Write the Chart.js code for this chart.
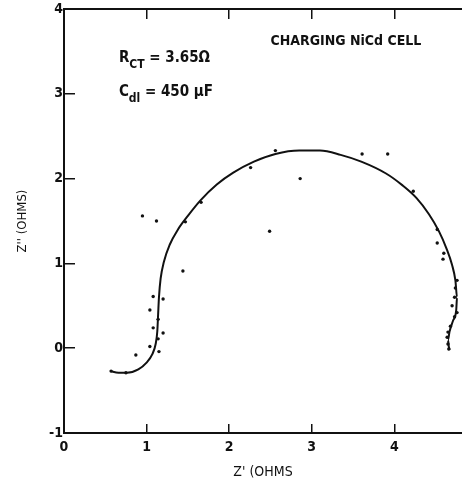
<!DOCTYPE html>
<html>
<head>
<meta charset="utf-8">
<script src="https://cdn.jsdelivr.net/npm/chart.js@4.4.0/dist/chart.umd.min.js"></script>
<style>
  html, body { margin: 0; padding: 0; background: #fff; }
  #wrap { width: 462px; height: 483px; }
</style>
</head>
<body>
<div id="wrap"><canvas id="nyquist" width="462" height="483"></canvas></div>
<script>
// fitted arc (Z', Z'')
const curveX = [0.56, 0.66, 0.76, 0.90, 1.00, 1.07, 1.11, 1.13, 1.14, 1.15, 1.17, 1.21, 1.28, 1.38, 1.50, 1.65, 1.85, 2.05, 2.30, 2.56, 2.85, 3.10, 3.35, 3.60, 3.90, 4.10, 4.27, 4.42, 4.54, 4.63, 4.70, 4.74, 4.76, 4.75, 4.71, 4.67, 4.65, 4.66, 4.67];
const curveY = [-0.27, -0.29, -0.29, -0.25, -0.17, -0.07, 0.05, 0.20, 0.40, 0.60, 0.82, 1.02, 1.22, 1.40, 1.56, 1.74, 1.93, 2.07, 2.20, 2.29, 2.33, 2.33, 2.28, 2.20, 2.06, 1.92, 1.77, 1.58, 1.38, 1.18, 0.98, 0.80, 0.60, 0.45, 0.32, 0.20, 0.10, 0.02, -0.02];

// measured points
const measX = [0.57, 0.75, 0.87, 0.95, 1.12, 1.44, 1.08, 1.20, 1.04, 1.14, 1.08, 1.20, 1.14, 1.04, 1.15, 1.47, 1.66, 2.26, 2.56, 2.86, 2.49, 3.61, 3.92, 4.23, 4.52, 4.52, 4.60, 4.59, 4.76, 4.74, 4.73, 4.70, 4.76, 4.73, 4.68, 4.65, 4.64, 4.65, 4.66];
const measY = [-0.27, -0.29, -0.08, 1.56, 1.50, 0.91, 0.61, 0.58, 0.45, 0.34, 0.24, 0.18, 0.11, 0.02, -0.04, 1.49, 1.72, 2.13, 2.33, 2.00, 1.38, 2.29, 2.29, 1.85, 1.40, 1.24, 1.12, 1.05, 0.80, 0.71, 0.60, 0.50, 0.42, 0.37, 0.26, 0.19, 0.13, 0.05, -0.01];

const xTicks = [0, 1, 2, 3, 4];
const yTicks = [-1, 0, 1, 2, 3, 4];

const FONT = "'DejaVu Sans Condensed', 'DejaVu Sans', sans-serif";

const toPoints = (xs, ys) => xs.map((x, i) => ({ x: x, y: ys[i] }));

// axes keep a fixed size and don't push the plot area around
const fixSize = (w, h) => s => {
  if (w !== null) s.width = w;
  if (h !== null) s.height = h;
  s.paddingTop = s.paddingBottom = s.paddingLeft = s.paddingRight = 0;
};

// annotation text placed in data coordinates
const notes = {
  id: 'notes',
  afterDraw(chart) {
    const { ctx, scales } = chart;
    const px = v => scales.x.getPixelForValue(v);
    const py = v => scales.y.getPixelForValue(v);
    ctx.save();
    ctx.fillStyle = '#111';
    ctx.textBaseline = 'alphabetic';
    ctx.textAlign = 'left';

    const run = (x, y, parts) => {
      let cx = x;
      parts.forEach(p => {
        ctx.font = p.font;
        ctx.fillText(p.text, cx, y + (p.dy || 0));
        cx += ctx.measureText(p.text).width;
      });
    };

    run(px(0.665), py(3.38), [
      { text: 'R', font: 'bold 15px ' + FONT },
      { text: 'CT', font: 'bold 12px ' + FONT, dy: 6 },
      { text: ' = 3.65\u03A9', font: 'bold 15px ' + FONT }
    ]);
    run(px(0.665), py(2.97), [
      { text: 'C', font: 'bold 15px ' + FONT },
      { text: 'dl', font: 'bold 12px ' + FONT, dy: 6 },
      { text: ' = 450 \u03BCF', font: 'bold 15px ' + FONT }
    ]);
    ctx.font = 'bold 14px ' + FONT;
    ctx.fillText('CHARGING NiCd CELL', px(2.5), py(3.58));
    ctx.restore();
  }
};

new Chart(document.getElementById('nyquist'), {
  type: 'scatter',
  data: {
    datasets: [
      {
        label: 'fit',
        data: toPoints(curveX, curveY),
        showLine: true,
        borderColor: '#111',
        borderWidth: 2,
        pointRadius: 0,
        cubicInterpolationMode: 'monotone'
      },
      {
        label: 'measured',
        data: toPoints(measX, measY),
        showLine: false,
        pointRadius: 1.7,
        pointBackgroundColor: '#111',
        pointBorderWidth: 0
      }
    ]
  },
  options: {
    responsive: false,
    animation: false,
    layout: { autoPadding: false, padding: 0 },
    plugins: { legend: { display: false }, tooltip: { enabled: false } },
    scales: {
      x: {
        type: 'linear',
        position: 'bottom',
        min: 0,
        max: 4.82,
        afterBuildTicks: s => { s.ticks = xTicks.map(v => ({ value: v })); },
        afterFit: fixSize(null, 50),
        grid: { drawOnChartArea: false, tickLength: -9, color: '#111', lineWidth: 1.5 },
        border: { display: true, color: '#111', width: 2 },
        ticks: { color: '#111', padding: 15, font: { family: FONT, size: 14, weight: 'bold' } },
        title: { display: true, text: "Z' (OHMS", color: '#111', padding: { top: 0, bottom: 2 }, font: { family: FONT, size: 14 } }
      },
      xTop: {
        type: 'linear',
        position: 'top',
        min: 0,
        max: 4.82,
        afterBuildTicks: s => { s.ticks = xTicks.map(v => ({ value: v })); },
        afterFit: fixSize(null, 9),
        grid: { drawOnChartArea: false, tickLength: -10, color: '#111', lineWidth: 1.5 },
        border: { display: true, color: '#111', width: 2 },
        ticks: { display: false }
      },
      y: {
        type: 'linear',
        position: 'left',
        min: -1,
        max: 4,
        afterBuildTicks: s => { s.ticks = yTicks.map(v => ({ value: v })); },
        afterFit: fixSize(64, null),
        grid: { drawOnChartArea: false, tickLength: -11, color: '#111', lineWidth: 1.5 },
        border: { display: true, color: '#111', width: 2 },
        ticks: { color: '#111', padding: 12, font: { family: FONT, size: 14, weight: 'bold' } },
        title: { display: true, text: "Z'' (OHMS)", color: '#111', padding: { top: 15, bottom: 0 }, font: { family: FONT, size: 13 } }
      }
    }
  },
  plugins: [notes]
});
</script>
</body>
</html>
